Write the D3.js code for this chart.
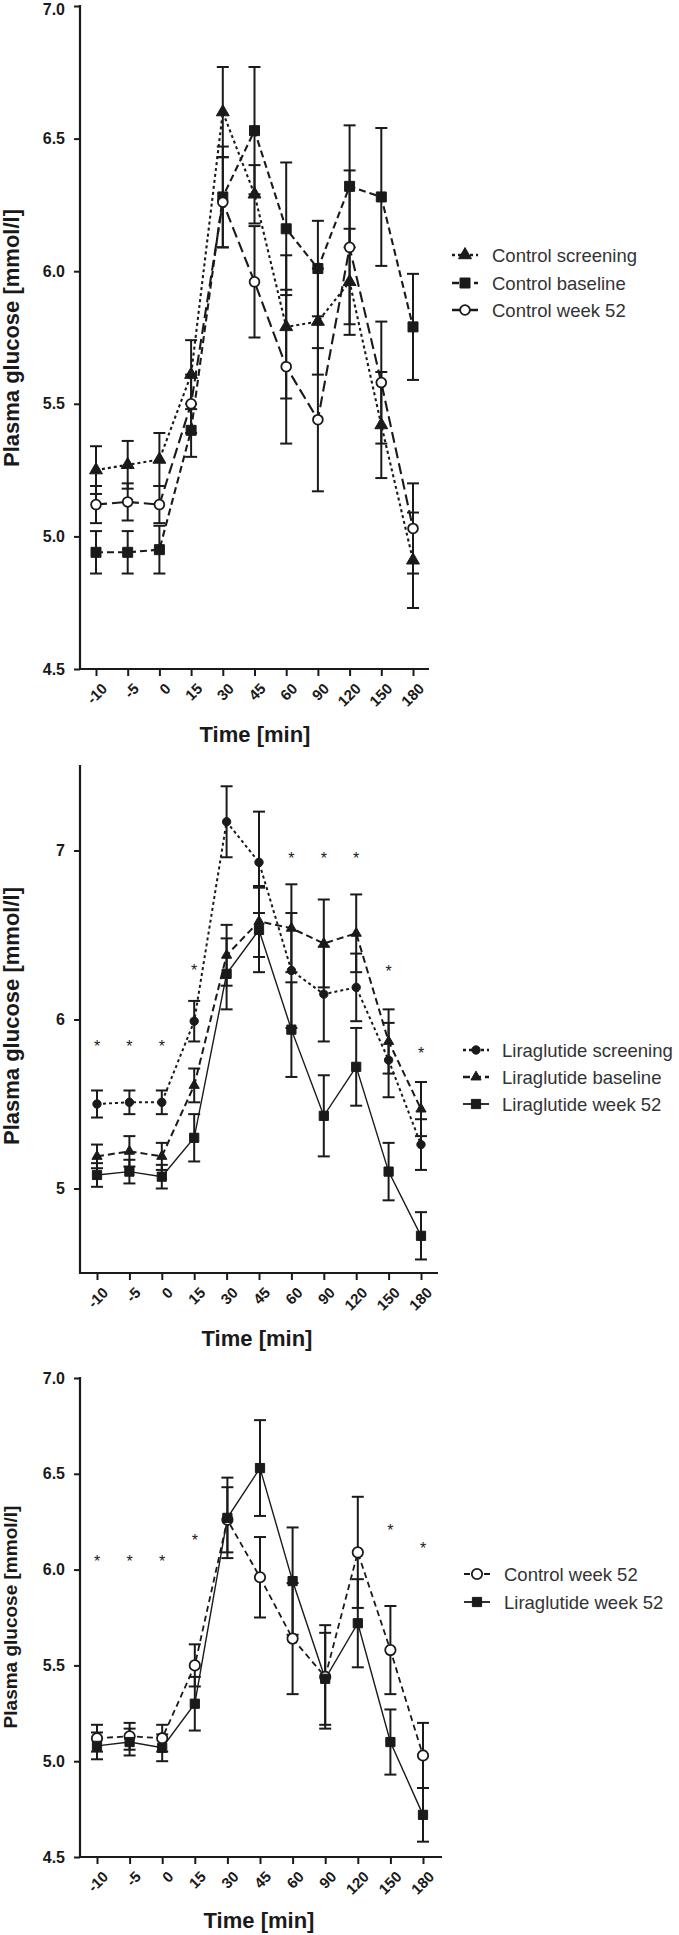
<!DOCTYPE html>
<html>
<head>
<meta charset="utf-8">
<script src="https://cdn.jsdelivr.net/npm/d3@7"></script>
<style>
  body { margin: 0; background: #fff; }
  text { font-family: "Liberation Sans", Arial, sans-serif; }
</style>
</head>
<body>
<script>
// time points (x categories)
let times = ["-10", "-5", "0", "15", "30", "45", "60", "90", "120", "150", "180"];

// control group, plasma glucose mean and SE
let ctrlScreening = [5.25, 5.27, 5.29, 5.61, 6.60, 6.29, 5.79, 5.81, 5.96, 5.42, 4.91];
let ctrlScreeningErr = [0.09, 0.09, 0.10, 0.13, 0.17, 0.11, 0.27, 0.20, 0.20, 0.20, 0.18];
let ctrlBaseline = [4.94, 4.94, 4.95, 5.40, 6.28, 6.53, 6.16, 6.01, 6.32, 6.28, 5.79];
let ctrlBaselineErr = [0.08, 0.08, 0.09, 0.10, 0.19, 0.24, 0.25, 0.18, 0.23, 0.26, 0.20];
let ctrlWeek52 = [5.12, 5.13, 5.12, 5.50, 6.26, 5.96, 5.64, 5.44, 6.09, 5.58, 5.03];
let ctrlWeek52Err = [0.07, 0.07, 0.07, 0.11, 0.17, 0.21, 0.29, 0.27, 0.29, 0.23, 0.17];

// liraglutide group
let liraScreening = [5.50, 5.51, 5.51, 5.99, 7.17, 6.93, 6.29, 6.15, 6.19, 5.76, 5.26];
let liraScreeningErr = [0.08, 0.07, 0.07, 0.12, 0.21, 0.30, 0.34, 0.28, 0.20, 0.22, 0.15];
let liraBaseline = [5.19, 5.22, 5.19, 5.61, 6.38, 6.58, 6.54, 6.45, 6.51, 5.87, 5.47];
let liraBaselineErr = [0.07, 0.09, 0.08, 0.10, 0.18, 0.21, 0.26, 0.26, 0.23, 0.19, 0.16];
let liraWeek52 = [5.08, 5.10, 5.07, 5.30, 6.27, 6.53, 5.94, 5.43, 5.72, 5.10, 4.72];
let liraWeek52Err = [0.07, 0.07, 0.07, 0.14, 0.21, 0.25, 0.28, 0.24, 0.23, 0.17, 0.14];

// significance asterisks: time point and height
let stars2Times = ["-10", "-5", "0", "15", "60", "90", "120", "150", "180"];
let stars2Y = [5.85, 5.85, 5.85, 6.30, 6.96, 6.96, 6.96, 6.29, 5.81];
let stars3Times = ["-10", "-5", "0", "15", "150", "180"];
let stars3Y = [6.05, 6.05, 6.05, 6.16, 6.21, 6.12];

// axis ticks
let yTicks1 = [4.5, 5.0, 5.5, 6.0, 6.5, 7.0];
let yTicks2 = [5, 6, 7];
let yTicks3 = [4.5, 5.0, 5.5, 6.0, 6.5, 7.0];

let svg = d3.select("body").append("svg")
    .attr("width", 679)
    .attr("height", 1935);

let ink = "#1a1a1a";

function drawPanel(p) {
    let g = svg.append("g");
    let x = d3.scalePoint().domain(times).range(p.xRange);
    let y = d3.scaleLinear().domain(p.yDomain).range([p.yBottom, p.yTop]);

    // axes
    let ya = g.append("g")
        .attr("transform", `translate(${p.axisX0},0)`)
        .call(d3.axisLeft(y).tickValues(p.yTicks).tickFormat(d3.format(p.fmt)).tickSize(6).tickPadding(9));
    ya.select(".domain").remove();
    ya.selectAll("line").attr("stroke", ink).attr("stroke-width", 2);
    ya.selectAll("text").attr("font-size", 16).attr("font-weight", "bold").attr("fill", ink)
        .attr("font-family", "Liberation Sans, Arial, sans-serif");
    // keep the top label inside the page
    ya.selectAll(".tick").filter(d => y(d) < 10).select("text").attr("dy", "0.5em");

    let xa = g.append("g")
        .attr("transform", `translate(0,${p.yBottom})`)
        .call(d3.axisBottom(x).tickSize(7));
    xa.select(".domain").remove();
    xa.selectAll("line").attr("stroke", ink).attr("stroke-width", 2);
    xa.selectAll("text")
        .attr("font-size", 15).attr("font-weight", "bold").attr("fill", ink)
        .attr("font-family", "Liberation Sans, Arial, sans-serif")
        .attr("text-anchor", "end")
        .attr("y", 0).attr("dy", "0.35em")
        .attr("transform", "translate(8,17) rotate(-45)");

    g.append("line").attr("x1", p.axisX0).attr("x2", p.axisX0)
        .attr("y1", p.yTop - 1).attr("y2", p.yBottom + 1)
        .attr("stroke", ink).attr("stroke-width", 2.2);
    g.append("line").attr("x1", p.axisX0 - 1).attr("x2", p.axisX1)
        .attr("y1", p.yBottom).attr("y2", p.yBottom)
        .attr("stroke", ink).attr("stroke-width", 2.2);

    // axis titles
    g.append("text")
        .attr("transform", `translate(${p.yLabelX},${p.yLabelY}) rotate(-90)`)
        .attr("text-anchor", "middle")
        .attr("font-size", p.yLabelSize).attr("font-weight", "bold").attr("fill", ink)
        .text("Plasma glucose [mmol/l]");
    g.append("text")
        .attr("x", p.timeX).attr("y", p.timeY)
        .attr("text-anchor", "middle")
        .attr("font-size", 22).attr("font-weight", "bold").attr("fill", ink)
        .text("Time [min]");

    let line = d3.line().x((d, i) => x(times[i])).y(d => y(d));

    // lines
    p.series.forEach(s => {
        g.append("path")
            .attr("d", line(s.values))
            .attr("fill", "none")
            .attr("stroke", ink)
            .attr("stroke-width", s.lineWidth)
            .attr("stroke-dasharray", s.dash);
    });

    // error bars
    p.series.forEach(s => {
        s.values.forEach((v, i) => {
            let cx = x(times[i]);
            let top = y(v + s.errs[i]);
            let bot = y(v - s.errs[i]);
            g.append("line").attr("x1", cx).attr("x2", cx).attr("y1", top).attr("y2", bot)
                .attr("stroke", ink).attr("stroke-width", 2);
            [top, bot].forEach(yy => {
                g.append("line").attr("x1", cx - 6).attr("x2", cx + 6).attr("y1", yy).attr("y2", yy)
                    .attr("stroke", ink).attr("stroke-width", 2);
            });
        });
    });

    // markers
    p.series.forEach(s => {
        g.selectAll(null)
            .data(s.values)
            .enter()
            .append("path")
            .attr("d", d3.symbol().type(s.symbol).size(s.size))
            .attr("transform", (d, i) => `translate(${x(times[i])},${y(d)})`)
            .attr("fill", s.fill)
            .attr("stroke", ink)
            .attr("stroke-width", s.fill === "white" ? 1.8 : 1);
    });

    // asterisks
    if (p.starTimes) {
        g.selectAll(null)
            .data(p.starTimes)
            .enter()
            .append("text")
            .attr("x", d => x(d))
            .attr("y", (d, i) => y(p.starY[i]) + 7)
            .attr("text-anchor", "middle")
            .attr("font-size", 16)
            .attr("fill", ink)
            .text("*");
    }

    // legend
    p.series.forEach((s, i) => {
        let ly = p.legendY[i];
        g.append("line")
            .attr("x1", p.legendX - 13).attr("x2", p.legendX + 13)
            .attr("y1", ly).attr("y2", ly)
            .attr("stroke", ink).attr("stroke-width", s.lineWidth + 0.4)
            .attr("stroke-dasharray", s.dash);
        g.append("path")
            .attr("d", d3.symbol().type(s.symbol).size(s.size))
            .attr("transform", `translate(${p.legendX},${ly})`)
            .attr("fill", s.fill)
            .attr("stroke", ink)
            .attr("stroke-width", s.fill === "white" ? 1.8 : 1);
        g.append("text")
            .attr("x", p.legendTextX).attr("y", ly + 6.5)
            .attr("font-size", 18.5)
            .attr("fill", "#333")
            .text(s.name);
    });
}

drawPanel({
    xRange: [96, 413], axisX0: 80, axisX1: 429,
    yTop: 6, yBottom: 669, yDomain: [4.5, 7.0], yTicks: yTicks1, fmt: ".1f",
    yLabelX: 19, yLabelY: 338, yLabelSize: 22, timeX: 255, timeY: 742,
    legendX: 465, legendTextX: 492, legendY: [255, 283, 310],
    series: [
        { name: "Control screening", values: ctrlScreening, errs: ctrlScreeningErr, symbol: d3.symbolTriangle, size: 72, fill: ink, dash: "3,3", lineWidth: 2.1 },
        { name: "Control baseline", values: ctrlBaseline, errs: ctrlBaselineErr, symbol: d3.symbolSquare, size: 100, fill: ink, dash: "7,4", lineWidth: 2.1 },
        { name: "Control week 52", values: ctrlWeek52, errs: ctrlWeek52Err, symbol: d3.symbolCircle, size: 75, fill: "white", dash: "11,5", lineWidth: 2.1 }
    ]
});

drawPanel({
    xRange: [97, 421], axisX0: 80, axisX1: 438,
    yTop: 766, yBottom: 1273, yDomain: [4.5, 7.5], yTicks: yTicks2, fmt: "d",
    yLabelX: 19, yLabelY: 1016, yLabelSize: 22, timeX: 257, timeY: 1346,
    legendX: 476, legendTextX: 502, legendY: [1050, 1077, 1104],
    starTimes: stars2Times, starY: stars2Y,
    series: [
        { name: "Liraglutide screening", values: liraScreening, errs: liraScreeningErr, symbol: d3.symbolCircle, size: 55, fill: ink, dash: "3,3", lineWidth: 2 },
        { name: "Liraglutide baseline", values: liraBaseline, errs: liraBaselineErr, symbol: d3.symbolTriangle, size: 45, fill: ink, dash: "7,4", lineWidth: 2 },
        { name: "Liraglutide week 52", values: liraWeek52, errs: liraWeek52Err, symbol: d3.symbolSquare, size: 85, fill: ink, dash: null, lineWidth: 1.4 }
    ]
});

drawPanel({
    xRange: [97, 423], axisX0: 80, axisX1: 442,
    yTop: 1378, yBottom: 1857, yDomain: [4.5, 7.0], yTicks: yTicks3, fmt: ".1f",
    yLabelX: 17, yLabelY: 1617, yLabelSize: 19, timeX: 259, timeY: 1928,
    legendX: 477, legendTextX: 504, legendY: [1574, 1602],
    starTimes: stars3Times, starY: stars3Y,
    series: [
        { name: "Control week 52", values: ctrlWeek52, errs: ctrlWeek52Err, symbol: d3.symbolCircle, size: 85, fill: "white", dash: "6,4", lineWidth: 1.8 },
        { name: "Liraglutide week 52", values: liraWeek52, errs: liraWeek52Err, symbol: d3.symbolSquare, size: 85, fill: ink, dash: null, lineWidth: 1.4 }
    ]
});
</script>
</body>
</html>
